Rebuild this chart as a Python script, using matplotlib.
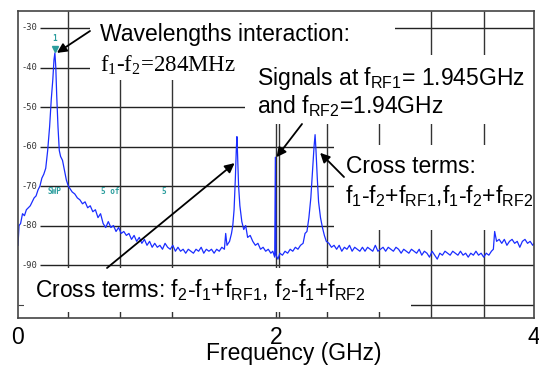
import matplotlib
matplotlib.use('Agg')
import matplotlib.pyplot as plt
from matplotlib.patches import Rectangle

# ---------------- data ----------------
freq_ghz = [
    0.000, 0.008, 0.020, 0.035, 0.050, 0.065, 0.080, 0.095, 0.110, 0.125,
    0.140, 0.155, 0.170, 0.185, 0.200, 0.215, 0.230, 0.245, 0.258, 0.270,
    0.279, 0.286, 0.293, 0.300, 0.310, 0.320, 0.330, 0.345, 0.360, 0.375,
    0.390,
    0.40, 0.42, 0.44, 0.46, 0.48, 0.50, 0.52, 0.54, 0.56, 0.58,
    0.60, 0.62, 0.64, 0.66, 0.68, 0.70, 0.72, 0.74, 0.76, 0.78,
    0.80, 0.82, 0.84, 0.86, 0.88, 0.90, 0.92, 0.94, 0.96, 0.98,
    1.00, 1.02, 1.04, 1.06, 1.08, 1.10, 1.12, 1.14, 1.16, 1.18,
    1.20, 1.22, 1.24, 1.26, 1.28, 1.30, 1.32, 1.34, 1.36, 1.38,
    1.40, 1.42, 1.44, 1.46, 1.48, 1.50, 1.52, 1.54, 1.56, 1.58,
    1.60, 1.61, 1.62, 1.64, 1.655, 1.665, 1.675, 1.685, 1.692, 1.697,
    1.702, 1.71, 1.72, 1.735, 1.75, 1.765, 1.78, 1.80, 1.82, 1.84,
    1.86, 1.88, 1.90, 1.92, 1.94, 1.96, 1.975, 1.99, 1.995, 2.000,
    2.015, 2.03, 2.05, 2.07, 2.09, 2.11, 2.13, 2.15, 2.17, 2.19,
    2.21, 2.225, 2.24, 2.255, 2.27, 2.285, 2.295, 2.303, 2.31, 2.32,
    2.33, 2.345, 2.36, 2.375, 2.39, 2.41, 2.43, 2.45,
    2.47, 2.49, 2.51, 2.53, 2.55, 2.57, 2.59, 2.61, 2.63, 2.65,
    2.67, 2.69, 2.71, 2.73, 2.75, 2.77, 2.79, 2.81, 2.83, 2.85,
    2.87, 2.89, 2.91, 2.93, 2.95, 2.97, 2.99, 3.01, 3.03, 3.05,
    3.07, 3.09, 3.11, 3.13, 3.15, 3.17, 3.19, 3.21, 3.23, 3.25,
    3.27, 3.29, 3.31, 3.33, 3.35, 3.37, 3.39, 3.41, 3.43, 3.45,
    3.47, 3.49, 3.51, 3.53, 3.55, 3.57, 3.59, 3.61, 3.63, 3.65,
    3.67, 3.685, 3.695, 3.71, 3.73, 3.75, 3.77, 3.79, 3.81, 3.83,
    3.85, 3.87, 3.89, 3.91, 3.93, 3.95, 3.97, 3.99, 4.00,
]
level_dbm = [
    -85.0, -80.0, -79.5, -77.0, -77.5, -76.0, -75.5, -75.0, -74.0, -73.0,
    -72.5, -71.0, -70.0, -68.0, -67.0, -65.5, -61.0, -55.0, -48.0, -43.0,
    -38.0, -36.3, -40.0, -47.0, -55.0, -61.0, -62.5, -63.5, -66.0, -68.5,
    -70.0,
    -70.5, -71.5, -72.0, -73.0, -73.5, -74.5, -74.0, -75.5, -75.0, -76.5,
    -76.0, -78.0, -77.0, -79.5, -80.5, -79.0, -80.5, -80.0, -81.5, -80.5,
    -82.0, -81.5, -82.5, -82.0, -83.5, -82.5, -84.0, -83.0, -84.5, -83.5,
    -85.0, -84.0, -85.5, -84.5, -85.5, -85.0, -86.0, -84.5, -85.5, -86.0,
    -85.0, -86.5, -85.5, -86.5, -86.0, -87.0, -86.0, -86.5, -87.0, -86.0,
    -86.5, -85.5, -87.0, -86.0, -86.5, -86.0, -87.0, -86.0, -86.5, -85.5,
    -86.0, -82.0, -85.0, -84.0, -82.0, -80.0, -76.0, -68.0, -61.0, -57.5,
    -62.0, -70.0, -75.0, -79.0, -81.0, -80.0, -83.0, -82.5, -84.0, -85.0,
    -84.5, -86.0, -85.5, -86.5, -86.0, -87.0, -86.5, -88.0, -62.7, -87.5,
    -88.5, -87.0, -87.5, -86.5, -87.0, -86.0, -86.5, -85.5, -86.0, -85.0,
    -84.5, -82.0, -81.5, -78.0, -73.0, -65.0, -60.0, -57.0, -61.0, -68.0,
    -74.0, -78.0, -80.5, -82.5, -84.0, -84.5, -85.5, -85.0,
    -86.0, -85.0, -86.5, -85.5, -86.0, -85.0, -86.5, -85.5, -86.0, -86.5,
    -85.5, -86.5, -85.5, -86.0, -86.5, -85.0, -86.5, -86.0, -85.5, -86.5,
    -85.5, -86.0, -86.5, -85.5, -86.0, -87.0, -86.0, -86.5, -87.0, -86.0,
    -86.5, -87.0, -86.0, -87.5, -86.5, -87.0, -88.0, -86.5, -87.5, -88.5,
    -87.0, -87.5, -86.5, -87.0, -87.5, -86.5, -87.0, -87.5, -86.5, -87.5,
    -87.0, -88.0, -87.0, -87.5, -86.5, -87.5, -87.0, -88.0, -87.0, -87.5,
    -86.5, -86.0, -81.5, -84.0, -83.5, -84.5, -83.5, -85.0, -84.0, -83.5,
    -84.5, -84.0, -85.5, -84.0, -83.5, -84.5, -84.0, -85.0, -84.5,
]

marker_freq = 0.286
marker_level = -36.3

x_ticks = [0, 2, 4]
x_tick_labels = ['0', '2', '4']
y_label_levels = [-30, -40, -50, -60, -70, -80, -90]
y_grid_levels = [-30, -40, -50, -60, -70, -80, -90, -100]
v_grid_freqs = [0.387, 0.789, 1.19, 2.0, 2.02, 2.398, 2.80, 3.203, 3.609]

# ---------------- figure ----------------
W, H = 539, 365
fig = plt.figure(figsize=(W / 100, H / 100), dpi=100)
ax = fig.add_axes([18 / W, 1 - 318 / H, 516 / W, 307 / H])
ax.set_xlim(0, 4)
ax.set_ylim(-103.4, -25.7)

SANS = 'Liberation Sans'
SERIF = 'Liberation Serif'
TEAL = '#2a9d9d'
BLUE = '#1a2dff'
FS = 16.5

def px(x, y):
    return (x / W, 1 - y / H)

# grid
ax.hlines(y_grid_levels, 0.17, 4, colors='#222222', lw=1.0, zorder=1)
ax.vlines(v_grid_freqs, -103.4, -25.7, colors='#333333', lw=1.0, zorder=1)

# spectrum trace
ax.plot(freq_ghz, level_dbm, color=BLUE, lw=0.9, zorder=2)
ax.plot([marker_freq], [marker_level + 1.0], marker='v', color=TEAL, ms=5, zorder=2.5)
ax.text(marker_freq, marker_level + 2.6, '1', color=TEAL, fontsize=5.5,
        family='DejaVu Sans Mono', weight='bold', ha='center', va='bottom', zorder=2.5)

# analyzer on-screen texts
yt = ax.get_yaxis_transform()
for lv in y_label_levels:
    ax.text(0.006, lv, '-' + str(abs(lv)), transform=yt, fontsize=6.3,
            family='DejaVu Sans Mono', color='#333333', ha='left', va='center', zorder=2)
for xpix, s in [(48, 'SWP'), (101, '5 of'), (161, '5')]:
    ax.text((xpix - 18) / 516, -71.4, s, transform=yt, fontsize=5.6,
            family='DejaVu Sans Mono', color=TEAL, weight='bold',
            ha='left', va='center', zorder=2)

# white boxes that hide the screen under the annotations
for x0, y0, x1, y1 in [(90, 11, 395, 80), (245, 55, 535, 124),
                       (334, 145, 535, 230), (24, 268, 411, 312)]:
    ax.add_patch(Rectangle(((x0 - 18) / 516, (318 - y1) / 307),
                           (x1 - x0) / 516, (y1 - y0) / 307,
                           transform=ax.transAxes, facecolor='white',
                           edgecolor='none', zorder=3))

# annotation texts
fig.text(*px(100, 41), 'Wavelengths interaction:', family=SANS, fontsize=FS,
         va='baseline', ha='left', zorder=5)
fig.text(*px(100, 72), r'$\mathregular{f_1}$-$\mathregular{f_2}$=284MHz',
         family=SERIF, fontsize=FS, va='baseline', ha='left', zorder=5)
fig.text(*px(257, 85), r'Signals at $\mathregular{f_{RF1}}$= 1.945GHz',
         family=SANS, fontsize=FS, va='baseline', ha='left', zorder=5)
fig.text(*px(257, 113), r'and $\mathregular{f_{RF2}}$=1.94GHz',
         family=SANS, fontsize=FS, va='baseline', ha='left', zorder=5)
fig.text(*px(346, 173), 'Cross terms:', family=SANS, fontsize=FS,
         va='baseline', ha='left', zorder=5)
fig.text(*px(345, 203),
         r'$\mathregular{f_1}$-$\mathregular{f_2}$+$\mathregular{f_{RF1}}$,'
         r'$\mathregular{f_1}$-$\mathregular{f_2}$+$\mathregular{f_{RF2}}$',
         family=SANS, fontsize=FS, va='baseline', ha='left', zorder=5)
fig.text(*px(35, 297),
         r'Cross terms: $\mathregular{f_2}$-$\mathregular{f_1}$+$\mathregular{f_{RF1}}$, '
         r'$\mathregular{f_2}$-$\mathregular{f_1}$+$\mathregular{f_{RF2}}$',
         family=SANS, fontsize=FS, va='baseline', ha='left', zorder=5)

# arrows
arrow_kw = dict(arrowstyle='-|>', color='black', lw=1.3, mutation_scale=14,
                shrinkA=0, shrinkB=0)
for (fx, lv), (tx, ty) in [((0.302, -36.3), (90, 31)),
                           ((2.004, -62.7), (302, 124)),
                           ((2.342, -61.6), (344, 177)),
                           ((1.679, -64.2), (107, 268))]:
    ax.annotate('', xy=(fx, lv), xycoords='data',
                xytext=(tx, H - ty), textcoords='figure pixels',
                arrowprops=arrow_kw, zorder=6, annotation_clip=False)

# axes styling
for sp in ax.spines.values():
    sp.set_color('#444444')
    sp.set_linewidth(1.2)
    sp.set_zorder(4)
ax.set_yticks([-100])
ax.set_yticklabels([])
ax.tick_params(axis='y', direction='in', length=4, color='#444444')
ax.set_xticks(x_ticks)
ax.set_xticklabels(x_tick_labels, family=SANS, fontsize=FS)
ax.tick_params(axis='x', length=0, pad=5.5)
fig.text(*px(294, 360), 'Frequency (GHz)', family=SANS, fontsize=FS,
         ha='center', va='baseline')

fig.savefig('out.png', dpi=100)
